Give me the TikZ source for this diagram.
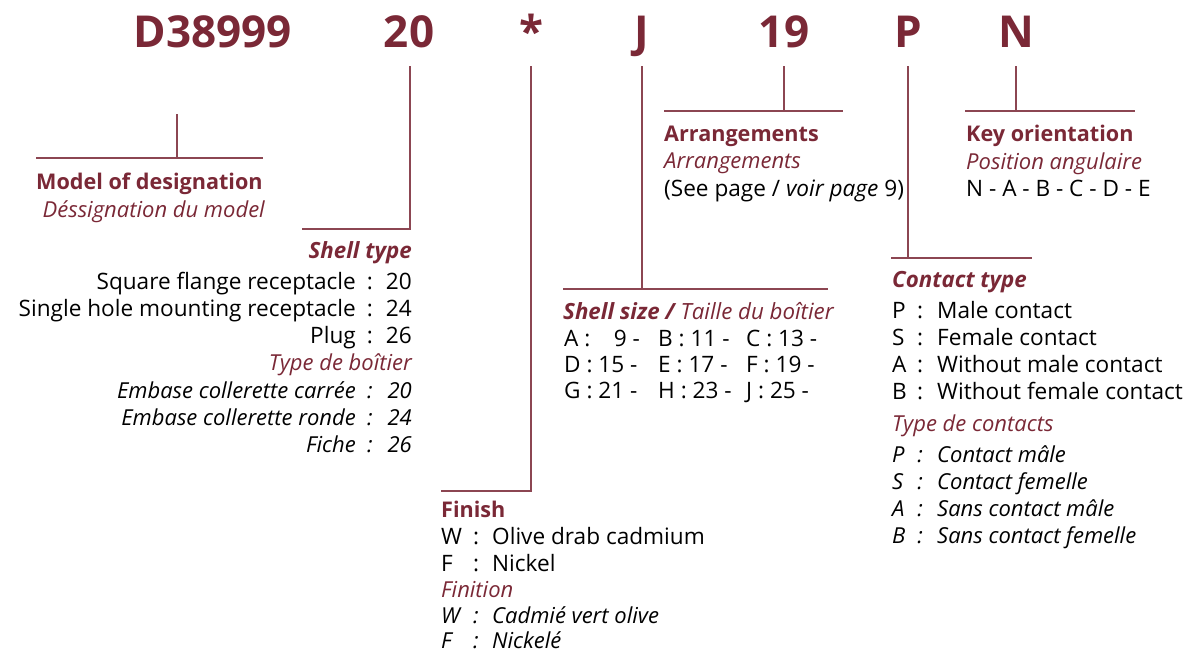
\documentclass[tikz,border=0pt]{standalone}
\usepackage{fontspec}
\setmainfont{Open Sans}
\definecolor{mar}{RGB}{122,40,54}
\definecolor{marl}{RGB}{140,70,82}
\tikzset{
  ttl/.style={inner sep=0pt, anchor=base, text=mar, font=\fontsize{44}{44}\selectfont\bfseries},
  base/.style={inner sep=0pt, font=\fontsize{22.6}{27}\selectfont},
  hd/.style={base, text=mar, font=\fontsize{21.6}{27}\selectfont\bfseries},
  hdi/.style={base, text=mar, font=\fontsize{22.3}{27}\selectfont\bfseries\itshape},
  fr/.style={base, text=mar, font=\fontsize{22}{27}\selectfont\itshape},
  tx/.style={base, text=black},
  txi/.style={base, text=black, font=\fontsize{22}{27}\selectfont\itshape},
  ln/.style={draw=marl, line width=1.2pt},
  W/.style={anchor=base west},
  E/.style={anchor=base east},
  C/.style={anchor=base},
}
\begin{document}
\begin{tikzpicture}[x=1pt,y=-1pt]
\useasboundingbox (0,0) rectangle (1193,654);
% titles
\node[ttl] (tD) at (213,47) {D38999};
\node[ttl] (t20) at (409,47) {20};
\node[ttl] (tS) at (531,47) {*};
\node[ttl] (tJ) at (642,47) {J};
\node[ttl] (t19) at (784,47) {19};
\node[ttl] (tP) at (908,47) {P};
\node[ttl] (tN) at (1016,47) {N};
% connector coordinates
\coordinate (mA) at (177,114); \coordinate (mB) at (177,158);
\coordinate (mL) at (36,158); \coordinate (mR) at (263,158);
\coordinate (a20) at (410,66); \coordinate (b20) at (302,229);
\coordinate (aS) at (531,66); \coordinate (bS) at (441,491);
\coordinate (aJ) at (642,66); \coordinate (bJ) at (642,289);
\coordinate (lJ) at (563,289); \coordinate (rJ) at (828,289);
\coordinate (a19) at (784,66); \coordinate (b19) at (784,111);
\coordinate (l19) at (664,111); \coordinate (r19) at (843,111);
\coordinate (aP) at (908,66); \coordinate (bP) at (908,258);
\coordinate (lP) at (891,258); \coordinate (rP) at (1032,258);
\coordinate (aN) at (1016,66); \coordinate (bN) at (1016,111);
\coordinate (lN) at (965,111); \coordinate (rN) at (1135,111);
\draw[ln] (mA) -- (mB); \draw[ln] (mL) -- (mR);
\draw[ln] (a20) |- (b20);
\draw[ln] (aS) |- (bS);
\draw[ln] (aJ) -- (bJ); \draw[ln] (lJ) -- (rJ);
\draw[ln] (a19) -- (b19); \draw[ln] (l19) -- (r19);
\draw[ln] (aP) -- (bP); \draw[ln] (lP) -- (rP);
\draw[ln] (aN) -- (bN); \draw[ln] (lN) -- (rN);
% Model of designation
\node[hd,W] (m1) at (36,189) {Model of designation};
\node[fr,E] (m2) at (265,217) {Déssignation du model};
% Shell type
\node[hdi,E] (s0) at (412,258) {Shell type};
\node[tx,E] (s1a) at (356,289) {Square flange receptacle};
\node[tx,C] (s1b) at (370,289) {:};
\node[tx,E] (s1c) at (412,289) {20};
\node[tx,E] (s2a) at (356,316) {Single hole mounting receptacle};
\node[tx,C] (s2b) at (370,316) {:};
\node[tx,E] (s2c) at (412,316) {24};
\node[tx,E] (s3a) at (356,343) {Plug};
\node[tx,C] (s3b) at (370,343) {:};
\node[tx,E] (s3c) at (412,343) {26};
\node[fr,E] (s4) at (412,370) {Type de boîtier};
\node[txi,E] (s5a) at (356,398) {Embase collerette carrée};
\node[txi,C] (s5b) at (370,398) {:};
\node[txi,E] (s5c) at (412,398) {20};
\node[txi,E] (s6a) at (356,425) {Embase collerette ronde};
\node[txi,C] (s6b) at (370,425) {:};
\node[txi,E] (s6c) at (412,425) {24};
\node[txi,E] (s7a) at (356,452) {Fiche};
\node[txi,C] (s7b) at (370,452) {:};
\node[txi,E] (s7c) at (412,452) {26};
% Finish
\node[hd,W] (f0) at (441,517) {Finish};
\node[tx,W] (f1a) at (441,544) {W};
\node[tx,C] (f1b) at (476,544) {:};
\node[tx,W] (f1c) at (492,544) {Olive drab cadmium};
\node[tx,W] (f2a) at (441,571) {F};
\node[tx,C] (f2b) at (476,571) {:};
\node[tx,W] (f2c) at (492,571) {Nickel};
\node[fr,W] (f3) at (441,597) {Finition};
\node[txi,W] (f4a) at (441,623) {W};
\node[txi,C] (f4b) at (476,623) {:};
\node[txi,W] (f4c) at (492,623) {Cadmié vert olive};
\node[txi,W] (f5a) at (441,648) {F};
\node[txi,C] (f5b) at (476,648) {:};
\node[txi,W] (f5c) at (492,648) {Nickelé};
% Shell size
\node[hdi,W] (z0) at (563,319) {Shell size /\ \textmd{Taille du boîtier}};
\node[tx,W] (z1) at (564,346) {\begin{tabular}{@{}p{94pt}@{}p{88pt}@{}l@{}}A :\ \ \ \ 9 - & B : 11 - & C : 13 -\end{tabular}};
\node[tx,W] (z2) at (564,372) {\begin{tabular}{@{}p{94pt}@{}p{88pt}@{}l@{}}D : 15 - & E : 17 - & F : 19 -\end{tabular}};
\node[tx,W] (z3) at (564,398) {\begin{tabular}{@{}p{94pt}@{}p{88pt}@{}l@{}}G : 21 - & H : 23 - & J : 25 -\end{tabular}};
% Arrangements
\node[hd,W] (r0) at (664,141) {Arrangements};
\node[fr,W] (r1) at (664,168) {Arrangements};
\node[tx,W] (r2) at (664,196) {(See page / \textit{voir page} 9)};
% Key orientation
\node[hd,W] (k0) at (966,141) {Key orientation};
\node[fr,W] (k1) at (966,169) {Position angulaire};
\node[tx,W] (k2) at (966,196) {N - A - B - C - D - E};
% Contact type
\node[hdi,W] (c0) at (892,287) {Contact type};
\node[tx,W] (c1a) at (892,318) {P}; \node[tx,C] (c1b) at (920,318) {:}; \node[tx,W] (c1c) at (937,318) {Male contact};
\node[tx,W] (c2a) at (892,345) {S}; \node[tx,C] (c2b) at (920,345) {:}; \node[tx,W] (c2c) at (937,345) {Female contact};
\node[tx,W] (c3a) at (892,372) {A}; \node[tx,C] (c3b) at (920,372) {:}; \node[tx,W] (c3c) at (937,372) {Without male contact};
\node[tx,W] (c4a) at (892,399) {B}; \node[tx,C] (c4b) at (920,399) {:}; \node[tx,W] (c4c) at (937,399) {Without female contact};
\node[fr,W] (c5) at (892,431) {Type de contacts};
\node[txi,W] (c6a) at (892,462) {P}; \node[txi,C] (c6b) at (920,462) {:}; \node[txi,W] (c6c) at (937,462) {Contact mâle};
\node[txi,W] (c7a) at (892,489) {S}; \node[txi,C] (c7b) at (920,489) {:}; \node[txi,W] (c7c) at (937,489) {Contact femelle};
\node[txi,W] (c8a) at (892,516) {A}; \node[txi,C] (c8b) at (920,516) {:}; \node[txi,W] (c8c) at (937,516) {Sans contact mâle};
\node[txi,W] (c9a) at (892,543) {B}; \node[txi,C] (c9b) at (920,543) {:}; \node[txi,W] (c9c) at (937,543) {Sans contact femelle};
\end{tikzpicture}
\end{document}
